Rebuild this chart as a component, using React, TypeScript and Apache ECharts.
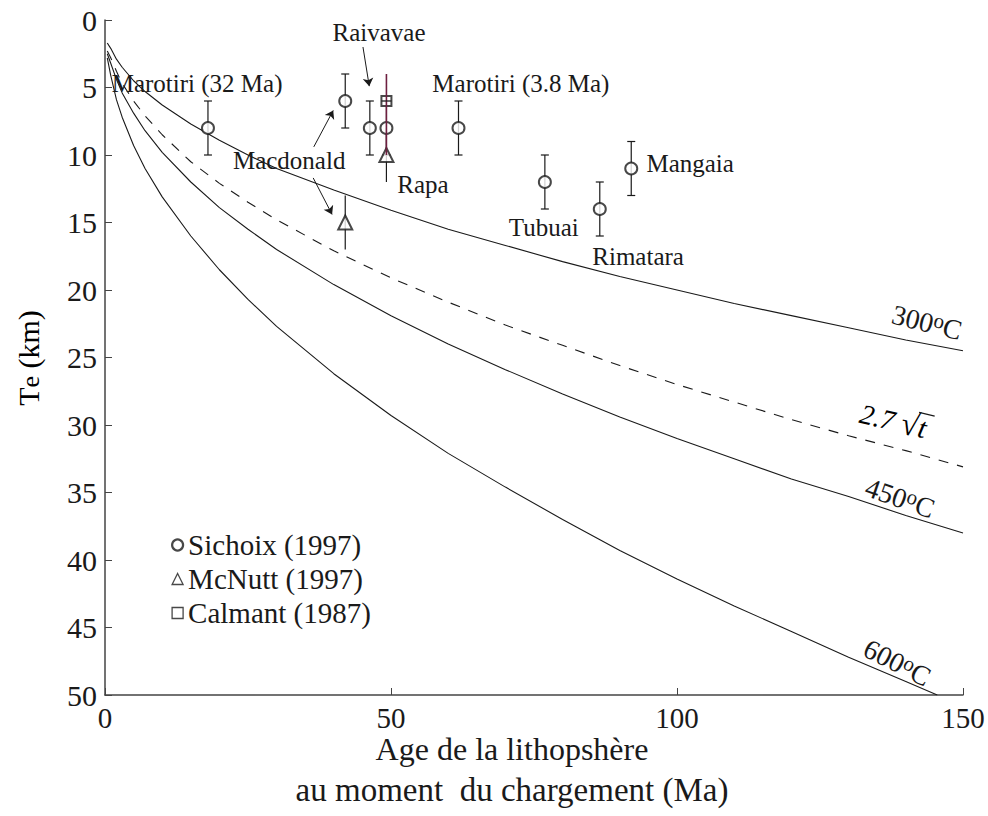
import React, { useEffect, useRef } from 'react';
import * as echarts from 'echarts';

const FONT = 'Liberation Serif, Times New Roman, serif';
const INK = '#1a1a1a';

// ---- axes ----
const xMin = 0, xMax = 150, xStep = 50;
const yMin = 0, yMax = 50, yStep = 5;

// ---- model curves (Te in km vs age in Ma) ----
const curveAge = [0.4, 1, 2, 3, 5, 7, 10, 15, 20, 25, 30, 40, 50, 60, 70, 80, 90, 100, 110, 120, 130, 140, 150];
const te300 = [1.7, 2.1, 2.9, 3.5, 4.5, 5.3, 6.3, 7.7, 8.9, 10.0, 11.0, 12.6, 14.1, 15.5, 16.7, 17.9, 19.0, 20.0, 21.0, 21.9, 22.8, 23.7, 24.5];
const teSqrt = [2.3, 2.8, 3.8, 4.7, 6.0, 7.1, 8.5, 10.5, 12.1, 13.5, 14.8, 17.1, 19.1, 20.9, 22.6, 24.1, 25.6, 27.0, 28.3, 29.6, 30.8, 31.9, 33.1];
const te450 = [2.5, 3.2, 4.4, 5.4, 6.9, 8.2, 9.8, 12.0, 13.9, 15.5, 17.0, 19.6, 21.9, 24.0, 25.9, 27.7, 29.4, 31.0, 32.5, 34.0, 35.3, 36.7, 38.0];
const age600 = [0.4, 1, 2, 3, 5, 7, 10, 15, 20, 25, 30, 40, 50, 60, 70, 80, 90, 100, 110, 120, 130, 140, 145.5];
const te600 = [2.8, 4.1, 5.9, 7.2, 9.3, 11.0, 13.1, 16.0, 18.5, 20.7, 22.7, 26.2, 29.3, 32.1, 34.6, 37.0, 39.3, 41.4, 43.4, 45.3, 47.2, 49.0, 50.0];

// ---- observations ----
const sichoixAge = [18, 42, 46.3, 49.2, 61.8, 76.9, 86.5, 92];
const sichoixTe = [8, 6, 8, 8, 8, 12, 14, 11];
const sichoixLow = [6, 4, 6, 6, 6, 10, 12, 9];
const sichoixHigh = [10, 8, 10, 10, 10, 14, 16, 13];

const mcnuttAge = [42, 49.2];
const mcnuttTe = [15, 10];
const mcnuttLow = [13, 8];
const mcnuttHigh = [17, 12];

const calmantAge = [49.2];
const calmantTe = [6];
const calmantLow = [4];
const calmantHigh = [10];

// ---- annotations (data coordinates) ----
const annoText = ['Raivavae', 'Marotiri (32 Ma)', 'Marotiri (3.8 Ma)', 'Macdonald', 'Rapa', 'Tubuai', 'Rimatara', 'Mangaia'];
const annoAge = [47.9, 16.1, 72.7, 32.2, 55.6, 76.7, 93.2, 102.3];
const annoTe = [0.96, 4.67, 4.67, 10.4, 12.2, 15.4, 17.5, 10.6];

const arrowFrom = [[45.1, 2.0], [36.5, 9.4], [36.4, 11.7]];
const arrowTo = [[46.2, 4.9], [39.9, 6.7], [39.7, 14.4]];

const curveLabelTemp = ['300', '450', '600'];
const curveLabelAge = [143.7, 139, 138.5];
const curveLabelTe = [22.4, 35.4, 47.6];
const curveLabelRot = [14, 19, 27];
const sqrtLabelAge = 139.9;
const sqrtLabelTe = 29.9;

const legendNames = ['Sichoix (1997)', 'McNutt (1997)', 'Calmant (1987)'];
const xNameLines = ['Age de la lithopshère', 'au moment  du chargement (Ma)'];

function zip(a: number[], b: number[]) {
  return a.map((v, i) => [v, b[i]]);
}

function errorBars(capHalf: number, color: string, lineWidth: number, cross: boolean) {
  return (_params: any, api: any) => {
    const x = api.value(0);
    const lo = api.coord([x, api.value(1)]);
    const hi = api.coord([x, api.value(2)]);
    const st = { stroke: color, lineWidth };
    const children: any[] = [
      { type: 'line', shape: { x1: lo[0], y1: lo[1], x2: hi[0], y2: hi[1] }, style: st },
    ];
    if (capHalf > 0) {
      children.push({ type: 'line', shape: { x1: lo[0] - capHalf, y1: lo[1], x2: lo[0] + capHalf, y2: lo[1] }, style: st });
      children.push({ type: 'line', shape: { x1: hi[0] - capHalf, y1: hi[1], x2: hi[0] + capHalf, y2: hi[1] }, style: st });
    }
    if (cross) {
      const c = api.coord([x, api.value(3)]);
      children.push({ type: 'line', shape: { x1: c[0] - 5, y1: c[1], x2: c[0] + 5, y2: c[1] }, style: { stroke: INK, lineWidth: 1.2 } });
    }
    return { type: 'group', children };
  };
}

const curveLine = (data: number[][], dashed: boolean) => ({
  type: 'line',
  data,
  showSymbol: false,
  symbol: 'none',
  smooth: false,
  lineStyle: { color: INK, width: 1.1, type: dashed ? [10, 9] : 'solid' },
  z: 2,
  silent: true,
});

const option: any = {
  animation: false,
  backgroundColor: '#fff',
  grid: { left: 105, right: 25, top: 20, bottom: 121, containLabel: false },
  xAxis: {
    type: 'value',
    position: 'bottom',
    min: xMin,
    max: xMax,
    interval: xStep,
    axisLine: { onZero: false, lineStyle: { color: '#444', width: 1.5 } },
    axisTick: { inside: true, length: 7, lineStyle: { color: '#444' } },
    axisLabel: { fontFamily: FONT, fontSize: 29, color: INK, margin: 8 },
    splitLine: { show: false },
  },
  yAxis: {
    type: 'value',
    inverse: true,
    min: yMin,
    max: yMax,
    interval: yStep,
    axisLine: { show: true, onZero: false, lineStyle: { color: '#444', width: 1.5 } },
    axisTick: { show: true, inside: true, length: 7, lineStyle: { color: '#444' } },
    axisLabel: { fontFamily: FONT, fontSize: 30, color: INK, margin: 8 },
    splitLine: { show: false },
  },
  legend: {
    orient: 'vertical',
    left: 166,
    top: 525,
    itemWidth: 11,
    itemHeight: 11,
    itemGap: 4,
    selectedMode: false,
    textStyle: { fontFamily: FONT, fontSize: 29, color: INK, lineHeight: 30 },
    data: [
      { name: legendNames[0], icon: 'circle', itemStyle: { color: '#fff', borderColor: INK, borderWidth: 2.2 } },
      { name: legendNames[1], icon: 'triangle', itemStyle: { color: '#fff', borderColor: INK, borderWidth: 1.3 } },
      { name: legendNames[2], icon: 'rect', itemStyle: { color: '#fff', borderColor: INK, borderWidth: 1.3 } },
    ],
  },
  series: [
    curveLine(zip(curveAge, te300), false),
    curveLine(zip(curveAge, teSqrt), true),
    curveLine(zip(curveAge, te450), false),
    curveLine(zip(age600, te600), false),
    {
      type: 'custom',
      name: 'sichoix-err',
      renderItem: errorBars(4, INK, 1.2, false),
      data: sichoixAge.map((a, i) => [a, sichoixLow[i], sichoixHigh[i]]),
      encode: { x: 0, y: [1, 2] },
      z: 3,
      silent: true,
    },
    {
      type: 'custom',
      name: 'mcnutt-err',
      renderItem: errorBars(0, INK, 1.2, false),
      data: mcnuttAge.map((a, i) => [a, mcnuttLow[i], mcnuttHigh[i]]),
      encode: { x: 0, y: [1, 2] },
      z: 3,
      silent: true,
    },
    {
      type: 'scatter',
      name: legendNames[0],
      data: zip(sichoixAge, sichoixTe),
      symbol: 'emptyCircle',
      symbolSize: 12,
      itemStyle: { color: INK, borderWidth: 1.2 },
      z: 4,
      silent: true,
    },
    {
      type: 'scatter',
      name: legendNames[1],
      data: zip(mcnuttAge, mcnuttTe),
      symbol: 'emptyTriangle',
      symbolSize: [14, 14],
      itemStyle: { color: INK, borderWidth: 1.2 },
      z: 4,
      silent: true,
    },
    {
      type: 'scatter',
      name: legendNames[2],
      data: zip(calmantAge, calmantTe),
      symbol: 'emptyRect',
      symbolSize: 10,
      itemStyle: { color: INK, borderWidth: 1.6 },
      z: 4,
      silent: true,
    },
    {
      type: 'custom',
      name: 'calmant-err',
      renderItem: errorBars(0, '#6e1f40', 1.6, true),
      data: calmantAge.map((a, i) => [a, calmantLow[i], calmantHigh[i], calmantTe[i]]),
      encode: { x: 0, y: [1, 2] },
      z: 5,
      silent: true,
    },
    {
      type: 'lines',
      coordinateSystem: 'cartesian2d',
      data: arrowFrom.map((f, i) => ({ coords: [f, arrowTo[i]] })),
      symbol: ['none', 'arrow'],
      symbolSize: 8,
      lineStyle: { color: INK, width: 1, opacity: 1 },
      z: 5,
      silent: true,
    },
  ],
};

export default function App() {
  const ref = useRef<HTMLDivElement>(null);
  useEffect(() => {
    const chart = echarts.init(ref.current!, null, { renderer: 'svg' });
    chart.setOption(option);
    const px = (t: number, te: number) => chart.convertToPixel({ gridIndex: 0 }, [t, te]) as number[];
    const g: any[] = [];
    annoText.forEach((txt, i) => {
      const [x, y] = px(annoAge[i], annoTe[i]);
      g.push({
        type: 'text', x, y, z: 10,
        style: { text: txt, fontFamily: FONT, fontSize: 25, fill: INK, align: 'center', verticalAlign: 'middle' },
      });
    });
    curveLabelTemp.forEach((tt, i) => {
      const [x, y] = px(curveLabelAge[i], curveLabelTe[i]);
      g.push({
        type: 'text', x, y, z: 10,
        rotation: (-curveLabelRot[i] * Math.PI) / 180,
        style: {
          text: `{a|${tt}}{s|o}{a|C}`,
          align: 'center',
          verticalAlign: 'middle',
          fill: INK,
          rich: {
            a: { fontFamily: FONT, fontSize: 28, fill: INK, color: INK, lineHeight: 30 },
            s: { fontFamily: FONT, fontSize: 21, fill: INK, color: INK, verticalAlign: 'top', lineHeight: 20 },
          },
        },
      });
    });
    {
      const [x, y] = px(sqrtLabelAge, sqrtLabelTe);
      g.push({
        type: 'group', x, y, z: 10,
        rotation: (-13 * Math.PI) / 180,
        children: [
          {
            type: 'text', x: -46, y: 0,
            style: {
              text: '{n|2.7 }{r|√}{t|t}',
              align: 'left',
              verticalAlign: 'middle',
              rich: {
                n: { fontFamily: FONT, fontSize: 28, fontStyle: 'italic', color: INK },
                r: { fontFamily: FONT, fontSize: 32, color: INK },
                t: { fontFamily: FONT, fontSize: 29, fontStyle: 'italic', color: INK },
              },
            },
          },
          { type: 'line', shape: { x1: 11, y1: -14, x2: 27, y2: -14 }, style: { stroke: INK, lineWidth: 1.3 } },
        ],
      });
    }
    g.push({
      type: 'text', x: 512, y: 749, z: 10,
      style: { text: xNameLines[0], fontFamily: FONT, fontSize: 32, fill: INK, align: 'center', verticalAlign: 'middle' },
    });
    g.push({
      type: 'text', x: 512, y: 790, z: 10,
      style: { text: xNameLines[1], fontFamily: FONT, fontSize: 33, fill: INK, align: 'center', verticalAlign: 'middle' },
    });
    g.push({
      type: 'text', x: 28, y: 358, z: 10,
      rotation: Math.PI / 2,
      style: {
        text: '{a|T}{b|e}{a| (km)}',
        align: 'center',
        verticalAlign: 'middle',
        rich: {
          a: { fontFamily: FONT, fontSize: 30, color: INK },
          b: { fontFamily: FONT, fontSize: 26, color: INK, verticalAlign: 'bottom' },
        },
      },
    });
    chart.setOption({ graphic: g });
    return () => chart.dispose();
  }, []);
  return (
    <div
      ref={ref}
      style={{ position: 'fixed', left: 0, top: 0, width: 988, height: 816, background: '#fff' }}
    />
  );
}
